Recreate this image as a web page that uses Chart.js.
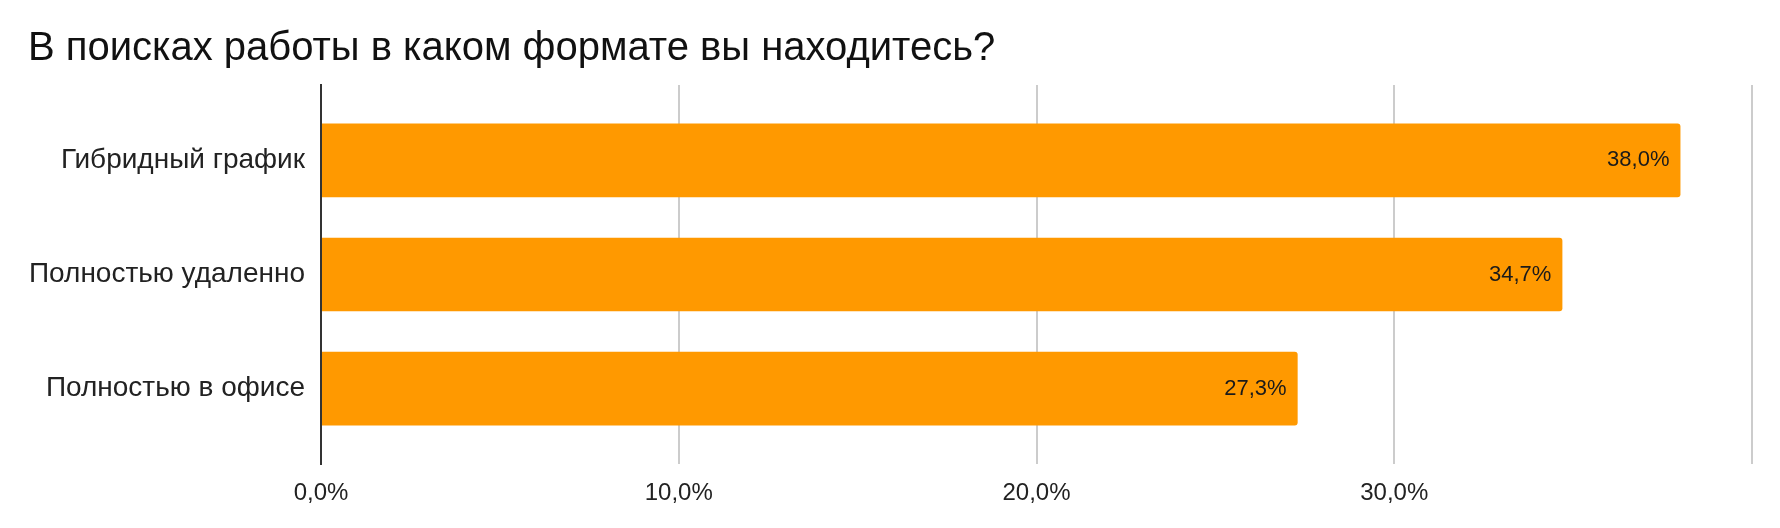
<!DOCTYPE html>
<html><head><meta charset="utf-8">
<script src="https://cdn.jsdelivr.net/npm/chart.js@4"></script>
<style>html,body{margin:0;padding:0;background:#fff}#wrap{width:1780px;height:528px;position:relative}</style>
</head><body><div id="wrap"><canvas id="c"></canvas></div>
<script>
const chartTitle = 'В поисках работы в каком формате вы находитесь?';
const categories = ['Гибридный график', 'Полностью удаленно', 'Полностью в офисе'];
const values = [38.0, 34.7, 27.3];
const xTickLabels = ['0,0%', '10,0%', '20,0%', '30,0%', ''];

const FONT = '"Liberation Sans", Arial, sans-serif';
const fmt = v => v.toFixed(1).replace('.', ',') + '%';

const valueLabelPlugin = {
  id: 'valueLabels',
  afterDatasetsDraw(chart) {
    const meta = chart.getDatasetMeta(0);
    const ctx = chart.ctx;
    ctx.save();
    ctx.font = '22px ' + FONT;
    ctx.fillStyle = '#1a1a1a';
    ctx.textAlign = 'right';
    ctx.textBaseline = 'middle';
    meta.data.forEach((bar, i) => {
      ctx.fillText(fmt(values[i]), bar.x - 11, bar.y);
    });
    ctx.restore();
  }
};

new Chart(document.getElementById('c'), {
  type: 'bar',
  data: {
    datasets: [{
      data: values.map((v, i) => ({ x: v, y: i })),
      backgroundColor: '#ff9900',
      borderWidth: 0,
      borderRadius: { topLeft: 0, bottomLeft: 0, topRight: 3, bottomRight: 3 },
      borderSkipped: 'start',
      categoryPercentage: 1,
      barPercentage: 0.646
    }]
  },
  options: {
    indexAxis: 'y',
    responsive: true,
    maintainAspectRatio: false,
    animation: false,
    layout: { padding: { left: 28, right: 28, top: 0, bottom: 20 } },
    plugins: {
      legend: { display: false },
      tooltip: { enabled: false },
      title: {
        display: true,
        text: chartTitle,
        align: 'start',
        color: '#111',
        font: { family: FONT, size: 40, weight: 'normal' },
        padding: { top: 25, bottom: 12 }
      }
    },
    scales: {
      x: {
        type: 'linear',
        min: 0,
        max: 40,
        afterFit: s => { s.height = 44; },
        ticks: {
          stepSize: 10,
          padding: 15,
          color: '#222',
          font: { family: FONT, size: 24 },
          callback: (v, i) => xTickLabels[i]
        },
        grid: { color: '#cccccc', lineWidth: 2, drawTicks: false },
        border: { display: false }
      },
      y: {
        type: 'linear',
        reverse: true,
        offset: false,
        min: -0.66,
        max: 2.66,
        afterBuildTicks: s => { s.ticks = categories.map((c, i) => ({ value: i })); },
        afterFit: s => { s.width = 293; },
        ticks: {
          padding: 16,
          color: '#222',
          font: { family: FONT, size: 28 },
          callback: v => categories[v]
        },
        grid: { display: false, drawTicks: false, offset: false },
        border: { display: true, color: '#333333', width: 2 }
      }
    }
  },
  plugins: [valueLabelPlugin]
});
</script>
</body></html>
